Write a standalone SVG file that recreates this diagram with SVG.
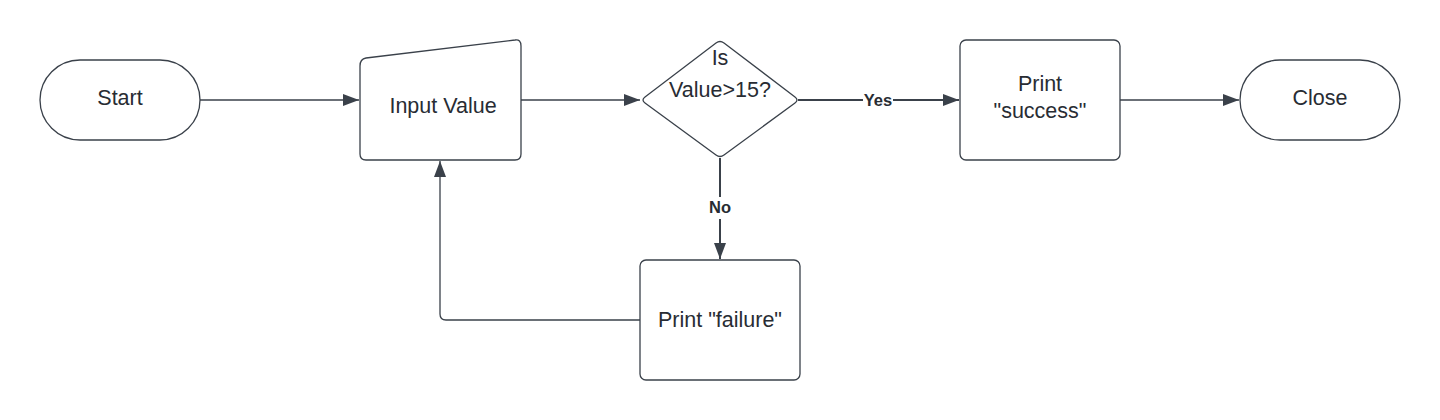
<svg xmlns="http://www.w3.org/2000/svg" width="1440" height="420" viewBox="0 0 1440 420">
<style>
.shape{fill:#ffffff;stroke:#3a414a;stroke-width:1.3}
.lbl{font-family:"Liberation Sans",Arial,sans-serif;font-size:21.5px;fill:#282c33;text-anchor:middle;dominant-baseline:central}
.conn{fill:none;stroke:#3a414a;stroke-width:1.3}
.bold{stroke-width:2}
.elbl{font-family:"Liberation Sans",Arial,sans-serif;font-size:16.5px;font-weight:bold;fill:#282c33;text-anchor:middle;dominant-baseline:central}
</style>
<defs>
<marker id="ah" viewBox="0 0 16 12" refX="16" refY="6" markerWidth="16" markerHeight="12" markerUnits="userSpaceOnUse" orient="auto">
<path d="M0,0 L16,6 L0,12 Z" fill="#3a414a"/>
</marker>
</defs>
<rect width="1440" height="420" fill="#ffffff"/>
<g id="connectors">
<path class="conn" d="M200,100 H359" marker-end="url(#ah)"/>
<path class="conn" d="M521,100 H640" marker-end="url(#ah)"/>
<path class="conn bold" d="M798,100 H863 M893,100 H959" marker-end="url(#ah)"/>
<text class="elbl" x="878" y="100">Yes</text>
<path class="conn bold" d="M1120,100 H1239" style="stroke-width:1.3" marker-end="url(#ah)"/>
<path class="conn bold" d="M720,158 V197 M720,219 V259" marker-end="url(#ah)"/>
<text class="elbl" x="720" y="207">No</text>
<path class="conn" d="M640,320 H446 Q440,320 440,314 V161" marker-end="url(#ah)"/>
</g>
<g id="start">
<rect class="shape" x="40" y="60" width="160" height="80" rx="40" ry="40"/>
<text class="lbl" x="120" y="98">Start</text>
</g>
<g id="input">
<path class="shape" d="M366,58 L515,40 Q521,39 521,46 V154 Q521,160 515,160 H366 Q360,160 360,154 V66 Q360,59 366,58 Z"/>
<text class="lbl" x="443" y="106">Input Value</text>
</g>
<g id="decision">
<path class="shape" d="M716,43 Q720,40 724,43 L795,97 Q799,100 795,103 L724,155 Q720,158 716,155 L645,103 Q641,100 645,97 Z"/>
<text class="lbl" x="720" y="58">Is</text>
<text class="lbl" x="720" y="90">Value&gt;15?</text>
</g>
<g id="success">
<rect class="shape" x="960" y="40" width="160" height="120" rx="6" ry="6"/>
<text class="lbl" x="1040" y="84">Print</text>
<text class="lbl" x="1040" y="111">"success"</text>
</g>
<g id="close">
<rect class="shape" x="1240" y="60" width="160" height="80" rx="40" ry="40"/>
<text class="lbl" x="1320" y="98">Close</text>
</g>
<g id="failure">
<rect class="shape" x="640" y="260" width="160" height="120" rx="6" ry="6"/>
<text class="lbl" x="720" y="320">Print "failure"</text>
</g>
</svg>
